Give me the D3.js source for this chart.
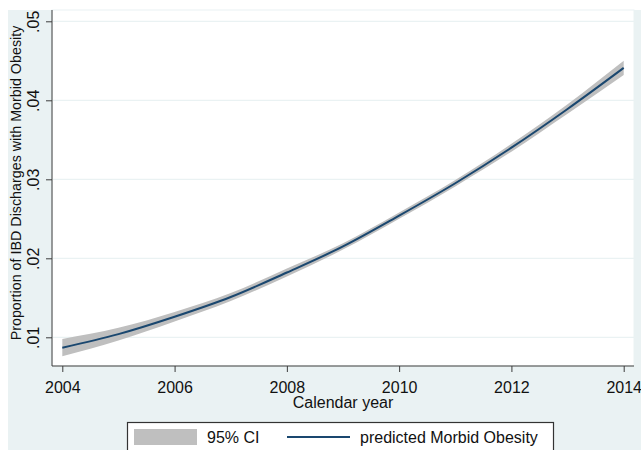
<!DOCTYPE html>
<html>
<head>
<meta charset="utf-8">
<script src="https://cdn.jsdelivr.net/npm/d3@7"></script>
<style>
  html, body { margin: 0; padding: 0; background: #ffffff; }
  svg { display: block; font-family: "Liberation Sans", Arial, sans-serif; }
</style>
</head>
<body>
<svg id="chart" width="641" height="450"></svg>
<script>
// Predicted proportion of IBD discharges with morbid obesity, by calendar year
const years     = [2004, 2005, 2006, 2007, 2008, 2009, 2010, 2011, 2012, 2013, 2014];
const predicted = [0.00868, 0.0104, 0.0126, 0.0151, 0.0182, 0.0215, 0.0254, 0.0295, 0.0340, 0.0389, 0.0441];
const ciLower   = [0.0076, 0.0096, 0.0120, 0.0146, 0.0177, 0.0211, 0.0250, 0.0291, 0.0335, 0.0383, 0.0432];
const ciUpper   = [0.0098, 0.0112, 0.0132, 0.0156, 0.0187, 0.0219, 0.0258, 0.0299, 0.0345, 0.0395, 0.0450];

const xTicks = [2004, 2006, 2008, 2010, 2012, 2014];
const yTicks = [0.01, 0.02, 0.03, 0.04, 0.05];
const yTickLabels = [".01", ".02", ".03", ".04", ".05"];

const xTitle = "Calendar year";
const yTitle = "Proportion of IBD Discharges with Morbid Obesity";
const legendLabels = ["95% CI", "predicted Morbid Obesity"];

const bgColor = "#eaf2f3";
const lineColor = "#1a476f";
const ciColor = "#bfbfbf";
const axisColor = "#3c3c3c";

const svg = d3.select("#chart");

// graph region and plot region
const plot = { left: 52, right: 634, top: 10, bottom: 366 };
svg.append("rect").attr("x", 8).attr("y", 10).attr("width", 633).attr("height", 440).attr("fill", bgColor);
svg.append("rect")
  .attr("x", plot.left).attr("y", plot.top)
  .attr("width", plot.right - plot.left).attr("height", plot.bottom - plot.top)
  .attr("fill", "#ffffff").attr("stroke", bgColor).attr("stroke-width", 1);

const x = d3.scaleLinear().domain([2004, 2014]).range([62.3, 623.7]);
const y = d3.scaleLinear().domain([0.01, 0.05]).range([337.3, 21.3]);

// gridlines
svg.append("g").selectAll("line").data(yTicks).join("line")
  .attr("x1", plot.left + 1).attr("x2", plot.right)
  .attr("y1", d => y(d)).attr("y2", d => y(d))
  .attr("stroke", bgColor).attr("stroke-width", 1.3);

const rows = years.map((yr, i) => ({ yr, p: predicted[i], lo: ciLower[i], hi: ciUpper[i] }));

// confidence band
svg.append("path").datum(rows)
  .attr("fill", ciColor)
  .attr("d", d3.area().curve(d3.curveMonotoneX).x(d => x(d.yr)).y0(d => y(d.lo)).y1(d => y(d.hi)));

// prediction line
svg.append("path").datum(rows)
  .attr("fill", "none").attr("stroke", lineColor).attr("stroke-width", 2)
  .attr("d", d3.line().curve(d3.curveMonotoneX).x(d => x(d.yr)).y(d => y(d.p)));

// y axis
const yAxis = svg.append("g").attr("transform", `translate(${plot.left},0)`)
  .call(d3.axisLeft(y).tickValues(yTicks).tickSize(6).tickFormat((d, i) => yTickLabels[i]));
yAxis.select(".domain").attr("d", `M0,${plot.top}V${plot.bottom}`).attr("stroke", axisColor);
yAxis.selectAll(".tick line").attr("stroke", axisColor);
yAxis.selectAll(".tick text")
  .attr("x", null).attr("dy", null)
  .attr("transform", "translate(-13,0) rotate(-90)")
  .attr("text-anchor", "middle")
  .attr("font-size", 16).attr("fill", "#111")
  .attr("font-family", "'Liberation Sans', Arial, sans-serif");

// x axis
const xAxis = svg.append("g").attr("transform", `translate(0,${plot.bottom})`)
  .call(d3.axisBottom(x).tickValues(xTicks).tickSize(6).tickFormat(d3.format("d")));
xAxis.select(".domain").attr("d", `M${plot.left},0H${plot.right}`).attr("stroke", axisColor);
xAxis.selectAll(".tick line").attr("stroke", axisColor);
xAxis.selectAll(".tick text")
  .attr("y", 27).attr("dy", null)
  .attr("font-size", 16).attr("fill", "#111")
  .attr("font-family", "'Liberation Sans', Arial, sans-serif");

// axis titles
svg.append("text")
  .attr("x", (plot.left + plot.right) / 2).attr("y", 408)
  .attr("text-anchor", "middle").attr("font-size", 16).attr("fill", "#111")
  .text(xTitle);
svg.append("text")
  .attr("transform", "translate(21,183) rotate(-90)")
  .attr("text-anchor", "middle").attr("font-size", 14.3).attr("fill", "#111")
  .text(yTitle);

// legend
const legend = svg.append("g");
legend.append("rect").attr("x", 127.5).attr("y", 422.5).attr("width", 426).attr("height", 40)
  .attr("fill", "#ffffff").attr("stroke", "#333").attr("stroke-width", 1.2);
legend.append("rect").attr("x", 134).attr("y", 429).attr("width", 63).attr("height", 16).attr("fill", ciColor);
legend.append("text").attr("x", 207).attr("y", 443).attr("font-size", 16).attr("fill", "#111").text(legendLabels[0]);
legend.append("line").attr("x1", 287).attr("x2", 350).attr("y1", 437).attr("y2", 437)
  .attr("stroke", lineColor).attr("stroke-width", 2);
legend.append("text").attr("x", 360).attr("y", 443).attr("font-size", 16).attr("fill", "#111").text(legendLabels[1]);
</script>
</body>
</html>
